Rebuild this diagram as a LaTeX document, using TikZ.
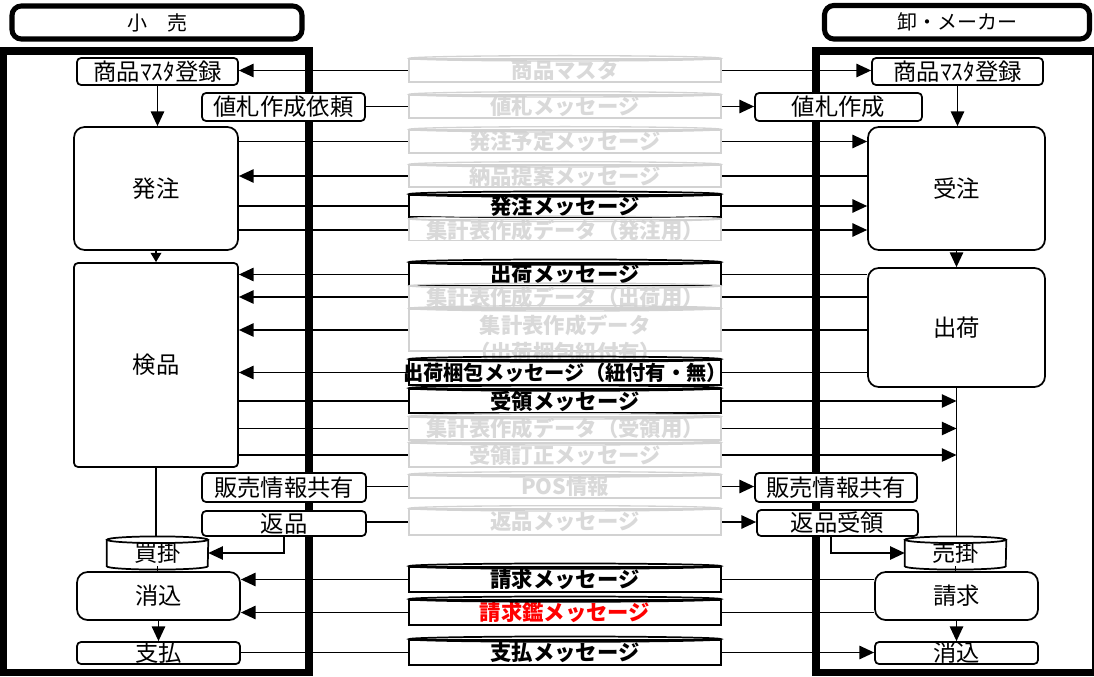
\documentclass[tikz,border=0pt]{standalone}
\usepackage{fontspec}
\setmainfont{Noto Sans CJK JP}
\usetikzlibrary{arrows.meta,backgrounds}
\newcommand\bx[7]{\node[#6, minimum width={(#4-#2)*0.75pt}, minimum height={(#5-#3)*0.75pt}] (#1) at ({(#2+#4)/2},{(#3+#5)/2}) {#7};}
\newcommand\mtop[2]{\draw[#2] (#1.north) ellipse[x radius=117pt, y radius=2pt];}
\newcommand\cyl[1]{%
  \draw[storeline] (#1.north west) -- (#1.south west) arc[start angle=180,end angle=360,x radius=37.875pt,y radius=2.5pt] -- (#1.north east);
  \draw[storeline,fill=white] (#1.north) ellipse[x radius=37.875pt, y radius=2.5pt];}
\begin{document}
\begin{tikzpicture}[x=0.75pt,y=-0.75pt,
  lab/.style={font=\fontsize{17.5}{17.5}\selectfont},
  procbox/.style={draw, line width=1.3pt, fill=white, rounded corners=3pt, inner sep=0pt, lab},
  bigproc/.style={procbox, rounded corners=8pt},
  hdr/.style={draw, line width=3.8pt, rounded corners=7pt, inner sep=0pt, font=\fontsize{15}{15}\selectfont},
  frame/.style={line width=5.5pt},
  store/.style={fill=white, inner sep=0pt, lab},
  storeline/.style={line width=1.3pt},
  msg/.style={fill=white, inner sep=0pt, font=\bfseries\fontsize{16}{16}\selectfont},
  msgk/.style={msg, draw=black, line width=1.3pt},
  msgg/.style={msg, draw=gray!35, line width=1pt, text=gray!30},
  msgr/.style={msgk, text=red},
  msgtxt/.style={inner sep=0pt, align=center, text=gray!30, font=\bfseries\fontsize{16}{20}\selectfont},
  topk/.style={line width=1.3pt},
  topg/.style={draw=gray!35, line width=1pt},
  conn/.style={line width=1.1pt},
  arr/.style={conn, -{Triangle[length=11pt,width=10pt]}},
  larr/.style={conn, {Triangle[length=11pt,width=10pt]}-},
  biarr/.style={conn, {Triangle[length=11pt,width=10pt]}-{Triangle[length=11pt,width=10pt]}},
  sarr/.style={conn, -{Triangle[length=7pt,width=8pt]}}]
\useasboundingbox (0,0) rectangle (1094,677);

% frames
\draw[frame] (3.5,51) rectangle (309,672.5);
\draw[frame] (816,51) rectangle (1096,672.5);

% headers
\bx{hl}{12}{6}{302}{39}{hdr}{小　売}
\bx{hr}{824.5}{5.5}{1089.5}{39}{hdr}{卸・メーカー}

% left side
\bx{lmaster}{77}{58}{238}{85}{procbox}{商品ﾏｽﾀ登録}
\bx{lnefuda}{202}{93}{365}{121}{procbox}{値札作成依頼}
\bx{lorder}{74}{127}{238}{250}{bigproc}{発注}
\bx{lkenpin}{74}{263}{238}{467}{procbox}{検品}
\bx{lpos}{202}{473}{366}{502}{procbox}{販売情報共有}
\bx{lret}{202}{511}{366}{536}{procbox}{返品}
\bx{lkai}{107}{540}{208}{566}{store}{買掛}
\cyl{lkai}
\bx{lkeshi}{77}{572}{240}{620}{bigproc}{消込}
\bx{lpay}{77}{642}{240}{664}{procbox}{支払}

% right side
\bx{rmaster}{872}{58}{1043}{85}{procbox}{商品ﾏｽﾀ登録}
\bx{rnefuda}{755}{93}{922}{121}{procbox}{値札作成}
\bx{rorder}{868}{127}{1045}{250}{bigproc}{受注}
\bx{rship}{868}{268}{1045}{387}{bigproc}{出荷}
\bx{rpos}{755}{473}{917}{502}{procbox}{販売情報共有}
\bx{rret}{757}{510}{918}{536}{procbox}{返品受領}
\bx{rkake}{905}{540}{1006}{566}{store}{売掛}
\cyl{rkake}
\bx{rseikyu}{875}{572}{1038}{620}{bigproc}{請求}
\bx{rkeshi}{875}{642}{1038}{664}{procbox}{消込}

% messages
\bx{m1}{409}{59}{721}{82}{msgg}{商品マスタ}\mtop{m1}{topg}
\bx{m2}{409}{95}{721}{118}{msgg}{値札メッセージ}\mtop{m2}{topg}
\bx{m3}{409}{130}{721}{153}{msgg}{発注予定メッセージ}\mtop{m3}{topg}
\bx{m4}{409}{165}{721}{187}{msgg}{納品提案メッセージ}\mtop{m4}{topg}
\bx{m5}{409}{195}{721}{217}{msgk}{発注メッセージ}\mtop{m5}{topk}
\bx{m6}{409}{220}{721}{240}{msgg}{集計表作成データ（発注用）}\mtop{m6}{topg}
\bx{m7}{409}{263}{721}{286}{msgk}{出荷メッセージ}\mtop{m7}{topk}
\bx{m8}{409}{288}{721}{306}{msgg}{集計表作成データ（出荷用）}\mtop{m8}{topg}
\bx{m9}{409}{309}{721}{351}{msgg}{}\mtop{m9}{topg}
\node[msgtxt] (m9t) at (565,339) {集計表作成データ\\（出荷梱包紐付有）};
\bx{m10}{409}{360}{721}{385}{msgk,font=\bfseries\fontsize{15.2}{15.2}\selectfont}{\makebox[0pt]{出荷梱包メッセージ（紐付有・無）}}\mtop{m10}{topk}
\bx{m11}{409}{389}{721}{413}{msgk}{受領メッセージ}\mtop{m11}{topk}
\bx{m12}{409}{417}{721}{440}{msgg}{集計表作成データ（受領用）}\mtop{m12}{topg}
\bx{m13}{409}{443}{721}{467}{msgg}{受領訂正メッセージ}\mtop{m13}{topg}
\bx{m14}{409}{475}{721}{498}{msgg}{POS情報}\mtop{m14}{topg}
\bx{m15}{409}{509}{721}{535}{msgg}{返品メッセージ}\mtop{m15}{topg}
\bx{m16}{409}{567}{721}{592}{msgk}{請求メッセージ}\mtop{m16}{topk}
\bx{m17}{409}{600}{721}{625}{msgr}{請求鑑メッセージ}\mtop{m17}{topk}
\bx{m18}{409}{640}{721}{665}{msgk}{支払メッセージ}\mtop{m18}{topk}

% connectors
\begin{scope}[on background layer]
\draw[biarr] (lmaster.east |- m1) -- (rmaster.west |- m1);
\draw[arr] (lnefuda.east |- m2) -- (rnefuda.west |- m2);
\draw[arr] (lorder.east |- m3) -- (rorder.west |- m3);
\draw[larr] (lorder.east |- m4) -- (rorder.west |- m4);
\draw[arr] (lorder.east |- m5) -- (rorder.west |- m5);
\draw[arr] (lorder.east |- m6) -- (rorder.west |- m6);
\foreach \m in {m7,m8,m9,m10} \draw[larr] (lkenpin.east |- \m) -- (rship.west |- \m);
\foreach \m in {m11,m12,m13} \draw[arr] (lkenpin.east |- \m) -- (rship.south |- \m);
\draw[arr] (lpos.east |- m14) -- (rpos.west |- m14);
\draw[arr] (lret.east |- m15) -- (rret.west |- m15);
\draw[larr] (lkeshi.east |- m16) -- (rseikyu.west |- m16);
\draw[larr] (lkeshi.east |- m17) -- (rseikyu.west |- m17);
\draw[arr] (lpay.east |- m18) -- (rkeshi.west |- m18);
% verticals left
\draw[arr] (lmaster.south) -- (lmaster.south |- lorder.north);
\draw[sarr] (lorder.south) -- (lkenpin.north);
\draw[conn] (lkenpin.south) -- (lkenpin.south |- lkai.north);
\draw[conn] (lkai.south) -- (lkai.south |- lkeshi.north);
\draw[arr] (lkeshi.south) -- (lkeshi.south |- lpay.north);
\draw[arr] (lret.south) |- (lkai.east);
% verticals right
\draw[arr] (rmaster.south) -- (rmaster.south |- rorder.north);
\draw[arr] (rorder.south) -- (rorder.south |- rship.north);
\draw[conn] (rship.south) -- (rship.south |- rkake.north);
\draw[conn] (rkake.south) -- (rkake.south |- rseikyu.north);
\draw[arr] (rseikyu.south) -- (rseikyu.south |- rkeshi.north);
\draw[arr] ([xshift=-4.9pt]rret.south) |- (rkake.west);
\end{scope}
\end{tikzpicture}
\end{document}
